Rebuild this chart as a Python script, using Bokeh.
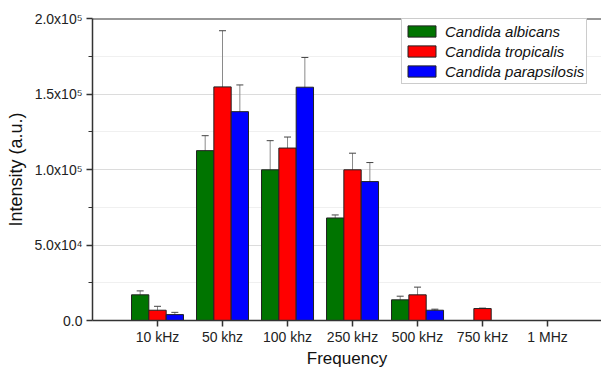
import math
from bokeh.plotting import figure
from bokeh.models import (ColumnDataSource, Whisker, TeeHead, FixedTicker, Range1d,
                          Legend, LegendItem, Span)
from bokeh.embed import file_html
from bokeh.resources import INLINE

categories = ["10 kHz", "50 khz", "100 khz", "250 kHz", "500 kHz", "750 kHz", "1 MHz"]
series_names = ["Candida albicans", "Candida tropicalis", "Candida parapsilosis"]
albicans = [17000, 112500, 99800, 67900, 13700, None, None]
albicans_err = [2600, 9900, 19300, 2000, 2400, None, None]
tropicalis = [6800, 154700, 114200, 99800, 17000, 7900, None]
tropicalis_err = [2600, 37200, 7300, 11000, 5100, 300, None]
parapsilosis = [3900, 138300, 154500, 92000, 6800, None, None]
parapsilosis_err = [1500, 17700, 19700, 12600, 700, None, None]
y_ticks = [0, 50000, 100000, 150000, 200000]
y_tick_labels = ["0.0", "5.0x10\u2074", "1.0x10\u2075", "1.5x10\u2075", "2.0x10\u2075"]
x_title = "Frequency"
y_title = "Intensity (a.u.)"

colors = ["#007400", "#ff0000", "#0000ff"]
FONT = "Liberation Sans"

p = figure(width=601, height=370, output_backend="svg", toolbar_location=None,
           x_range=Range1d(-1, 6.83), y_range=Range1d(0, 200000),
           min_border_left=92, min_border_right=0, min_border_top=18, min_border_bottom=50)
p.outline_line_color = None
p.background_fill_color = "white"

bar_w = 0.8 / 3
offsets = [-bar_w, 0, bar_w]
items = []
for name, vals, errs, col, off in zip(series_names,
                                      [albicans, tropicalis, parapsilosis],
                                      [albicans_err, tropicalis_err, parapsilosis_err],
                                      colors, offsets):
    xs, tops, ups, los = [], [], [], []
    for i, (v, e) in enumerate(zip(vals, errs)):
        if v is None:
            continue
        xs.append(i + off)
        tops.append(v)
        ups.append(v + e)
        los.append(v - e)
    src = ColumnDataSource(dict(x=xs, top=tops, upper=ups, lower=los))
    r = p.vbar(x="x", top="top", width=bar_w, source=src, fill_color=col,
               line_color="#222222", line_width=1)
    w = Whisker(base="x", upper="upper", lower="lower", source=src, dimension="height",
                line_color="#8a8a8a", line_width=1,
                upper_head=TeeHead(size=7, line_color="#444444", line_width=1),
                lower_head=TeeHead(size=7, line_color="#444444", line_width=1))
    p.add_layout(w)
    items.append(LegendItem(label=name, renderers=[r]))

# top border line
p.add_layout(Span(location=200000, dimension="width", line_color="#333333", line_width=2))

legend = Legend(items=items, location=(309, 236))
legend.label_text_font = FONT
legend.label_text_font_style = "italic"
legend.label_text_font_size = "15px"
legend.label_text_color = "#111111"
legend.glyph_width = 35
legend.glyph_height = 14
legend.label_height = 20
legend.label_standoff = 6
legend.padding = 2
legend.spacing = 0
legend.margin = 0
legend.border_line_color = "#999999"
legend.border_line_width = 1
legend.background_fill_alpha = 1
p.add_layout(legend)

# grids
p.xgrid.grid_line_color = None
p.ygrid.grid_line_color = "#dcdcdc"
p.ygrid.grid_line_width = 1
p.ygrid.minor_grid_line_color = "#f0f0f0"

# x axis
p.xaxis.ticker = FixedTicker(ticks=list(range(len(categories))))
p.xaxis.major_label_overrides = {i: c for i, c in enumerate(categories)}
p.xaxis.minor_tick_line_color = None
p.xaxis.axis_label = x_title

# y axis
p.yaxis.ticker = FixedTicker(ticks=y_ticks,
                             minor_ticks=[25000, 75000, 125000, 175000])
p.yaxis.major_label_overrides = {t: l for t, l in zip(y_ticks, y_tick_labels)}
p.yaxis.axis_label = y_title

for ax in (p.xaxis[0], p.yaxis[0]):
    ax.axis_line_color = "#333333"
    ax.axis_line_width = 1.5
    ax.major_tick_line_color = "#333333"
    ax.major_tick_line_width = 1.5
    ax.major_tick_in = 0
    ax.major_tick_out = 6
    ax.minor_tick_in = 0
    ax.minor_tick_out = 4
    ax.major_label_text_font = FONT
    ax.major_label_text_font_size = "14px"
    ax.major_label_text_color = "#222222"
    ax.axis_label_text_font = FONT
    ax.axis_label_text_font_style = "normal"
    ax.axis_label_text_color = "#111111"

p.xaxis.axis_label_text_font_size = "17px"
p.yaxis.axis_label_text_font_size = "18px"
p.yaxis.minor_tick_line_color = "#333333"
p.xaxis.major_label_standoff = 2
p.xaxis.axis_label_standoff = 1
p.yaxis.major_label_standoff = 4
p.yaxis.axis_label_standoff = 5

open("out.html", "w").write(file_html(p, INLINE))
